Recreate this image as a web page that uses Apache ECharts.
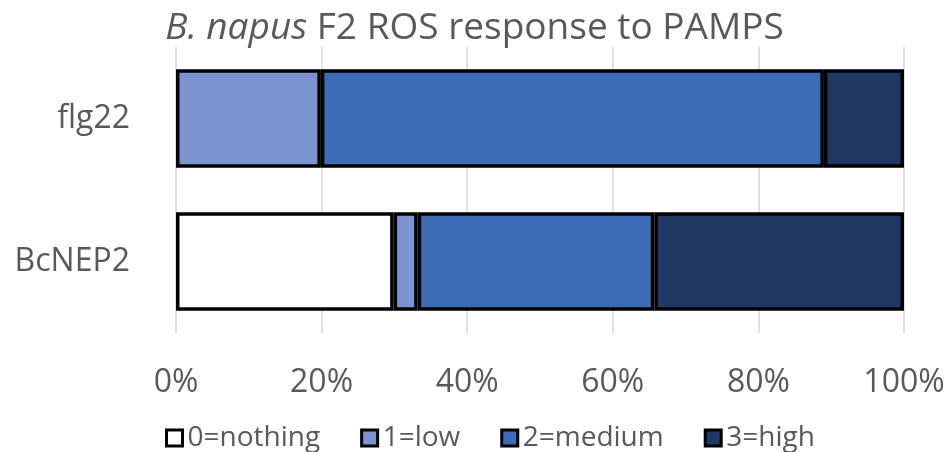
<!DOCTYPE html>
<html>
<head>
<meta charset="utf-8">
<script src="https://cdn.jsdelivr.net/npm/echarts@6/dist/echarts.min.js"></script>
<style>html,body{margin:0;padding:0;background:#fff}#c{width:949px;height:452px}</style>
</head>
<body>
<div id="c"></div>
<script>
const categories = ['flg22', 'BcNEP2'];
const seriesNames = ['0=nothing', '1=low', '2=medium', '3=high'];
const nothingVals = [0, 29.9];
const lowVals = [19.9, 3.3];
const mediumVals = [69.1, 32.5];
const highVals = [11.0, 34.3];
const colors = ['#FFFFFF', '#7B93CF', '#3E6BB5', '#203864'];

const allVals = [nothingVals, lowVals, mediumVals, highVals];
const FONT = '"Open Sans", sans-serif';
const chart = echarts.init(document.getElementById('c'));
chart.setOption({
  animation: false,
  title: {
    text: '{i|B. napus} F2 ROS response to PAMPS',
    left: 'center',
    top: 5,
    textStyle: {
      fontFamily: FONT, fontSize: 37, fontWeight: 'normal', color: '#595959',
      rich: { i: { fontFamily: FONT, fontSize: 37, fontStyle: 'italic', color: '#595959' } }
    }
  },
  grid: { left: 176, right: 45, top: 47, bottom: 119, containLabel: false },
  xAxis: {
    type: 'value', min: 0, max: 100, interval: 20,
    axisLine: { show: false },
    axisTick: { show: false },
    splitLine: { lineStyle: { color: '#D9D9D9', width: 1.5 } },
    axisLabel: { formatter: '{value}%', fontFamily: FONT, fontSize: 32, color: '#595959', margin: 34 }
  },
  yAxis: {
    type: 'category', data: categories, inverse: true,
    axisLine: { show: false },
    axisTick: { show: false },
    axisLabel: { fontFamily: FONT, fontSize: 32, color: '#595959', margin: 46 }
  },
  legend: {
    bottom: -5, left: 160,
    icon: 'rect', itemWidth: 16, itemHeight: 16, itemGap: 40,
    textStyle: { fontFamily: FONT, fontSize: 28, color: '#595959' },
    itemStyle: { borderColor: '#000', borderWidth: 3 },
    data: seriesNames
  },
  series: seriesNames.map((n, i) => ({
    name: n, type: 'bar', stack: 'total',
    barCategoryGap: '31%',
    data: allVals[i].map(v => (v === 0 ? '-' : v)),
    itemStyle: { color: colors[i], borderColor: '#000', borderWidth: 3.5 }
  }))
});
</script>
</body>
</html>
